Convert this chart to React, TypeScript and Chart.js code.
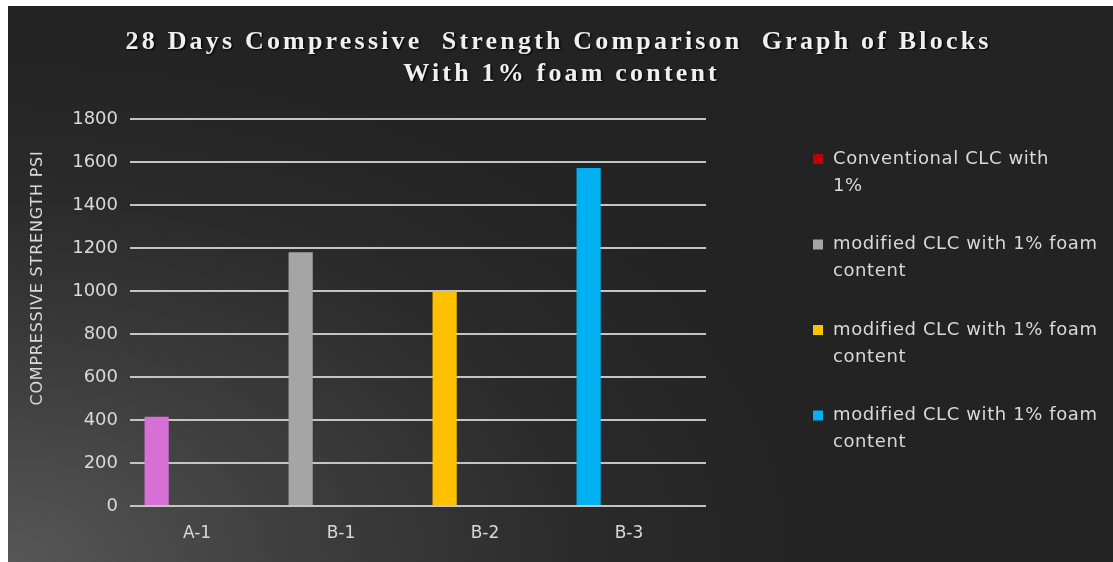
import React, { useEffect, useRef } from "react";
import { Chart, registerables } from "chart.js";

Chart.register(...registerables);

const categories = ["A-1", "B-1", "B-2", "B-3"];
const strengthValues = [415, 1180, 1000, 1572];
const barColors = ["#d670d6", "#a5a5a5", "#ffc000", "#00b0f0"];
const seriesNames = [
  ["Conventional CLC with", "1%"],
  ["modified CLC with 1% foam", "content"],
  ["modified CLC with 1% foam", "content"],
  ["modified CLC with 1% foam", "content"],
];
const legendColors = ["#c00000", "#a5a5a5", "#ffc000", "#00b0f0"];
const titleLines = [
  "28 Days Compressive  Strength Comparison  Graph of Blocks",
  "With 1% foam content",
];
const axisTitle = "COMPRESSIVE STRENGTH PSI";

const UI_FONT = "'DejaVu Sans', 'Open Sans', sans-serif";
const TITLE_FONT = "bold 26px 'Liberation Serif', 'DejaVu Serif', serif";

// Title, axis title and side legend are drawn on the canvas after the chart.
const decorations = {
  id: "decorations",
  afterDraw(chart: any) {
    const ctx = chart.ctx as CanvasRenderingContext2D;
    ctx.save();

    // title, tracked out to a fixed line width
    ctx.fillStyle = "#f0f0f0";
    ctx.textAlign = "center";
    ctx.textBaseline = "middle";
    ctx.font = TITLE_FONT;
    (ctx as any).letterSpacing = "0px";
    const natural = ctx.measureText(titleLines[0]).width;
    const spacing = Math.max(0, (866 - natural) / titleLines[0].length);
    (ctx as any).letterSpacing = `${spacing}px`;
    ctx.shadowColor = "rgba(0,0,0,0.85)";
    ctx.shadowOffsetX = 1.5;
    ctx.shadowOffsetY = 1.5;
    ctx.shadowBlur = 2;
    ctx.fillText(titleLines[0], 549 + spacing / 2, 36);
    ctx.fillText(titleLines[1], 552 + spacing / 2, 68);
    ctx.shadowColor = "transparent";

    // rotated axis title
    ctx.save();
    ctx.translate(30, 272);
    ctx.rotate(-Math.PI / 2);
    ctx.font = `16px ${UI_FONT}`;
    (ctx as any).letterSpacing = "0.8px";
    ctx.fillStyle = "#d9d9d9";
    ctx.fillText(axisTitle, 0, 0);
    ctx.restore();

    // legend
    ctx.textAlign = "left";
    ctx.font = `18px ${UI_FONT}`;
    (ctx as any).letterSpacing = "0.6px";
    seriesNames.forEach((lines, i) => {
      const y = 153 + i * 85.5;
      ctx.fillStyle = legendColors[i];
      ctx.fillRect(805, y - 5, 10, 10);
      ctx.fillStyle = "#d9d9d9";
      lines.forEach((t, j) => ctx.fillText(t, 825, y + j * 27));
    });
    ctx.restore();
  },
};

export default function App() {
  const canvasRef = useRef<HTMLCanvasElement | null>(null);

  useEffect(() => {
    document.body.style.margin = "0";
    const canvas = canvasRef.current;
    if (!canvas) return;

    // one visible series with per-category colours; the others stay empty
    const datasets = seriesNames.map((n, i) => ({
      label: n.join(" "),
      data: i === 0 ? strengthValues : categories.map(() => null),
      backgroundColor: i === 0 ? barColors : legendColors[i],
      borderWidth: 0,
      categoryPercentage: 0.84,
      barPercentage: 0.8,
    }));

    const chart = new Chart(canvas, {
      type: "bar",
      data: { labels: categories, datasets },
      options: {
        animation: false,
        responsive: false,
        maintainAspectRatio: false,
        layout: { padding: { top: 113, right: 407, left: 0, bottom: 0 } },
        plugins: {
          legend: { display: false },
          title: { display: false },
          tooltip: { enabled: false },
        },
        scales: {
          x: {
            grid: { display: false, drawTicks: false },
            border: { display: false },
            ticks: {
              color: "#d9d9d9",
              font: { family: UI_FONT, size: 17 },
              padding: 17,
              labelOffset: -5,
            },
            afterFit: (s: any) => {
              s.height = 56;
            },
          },
          y: {
            min: 0,
            max: 1800,
            grid: { color: "#c4c4c4", lineWidth: 2, drawTicks: false },
            border: { display: false },
            ticks: {
              stepSize: 200,
              color: "#d9d9d9",
              font: { family: UI_FONT, size: 18 },
              padding: 12,
              callback: (v: any) => String(v),
            },
            afterFit: (s: any) => {
              s.width = 122;
            },
          },
        },
      },
      plugins: [decorations],
    });
    return () => chart.destroy();
  }, []);

  return (
    <div
      style={{
        position: "relative",
        width: 1113,
        height: 562,
        background: "#ffffff",
        overflow: "hidden",
      }}
    >
      <div
        style={{
          position: "absolute",
          left: 8,
          top: 6,
          width: 1105,
          height: 556,
          background:
            "radial-gradient(ellipse 75% 95% at 0% 100%, #575757 0%, #3e3e3e 35%, #2a2a2a 70%, #232323 100%)",
        }}
      >
        <canvas
          ref={canvasRef}
          width={1105}
          height={556}
          style={{ display: "block", width: 1105, height: 556 }}
        />
      </div>
    </div>
  );
}
